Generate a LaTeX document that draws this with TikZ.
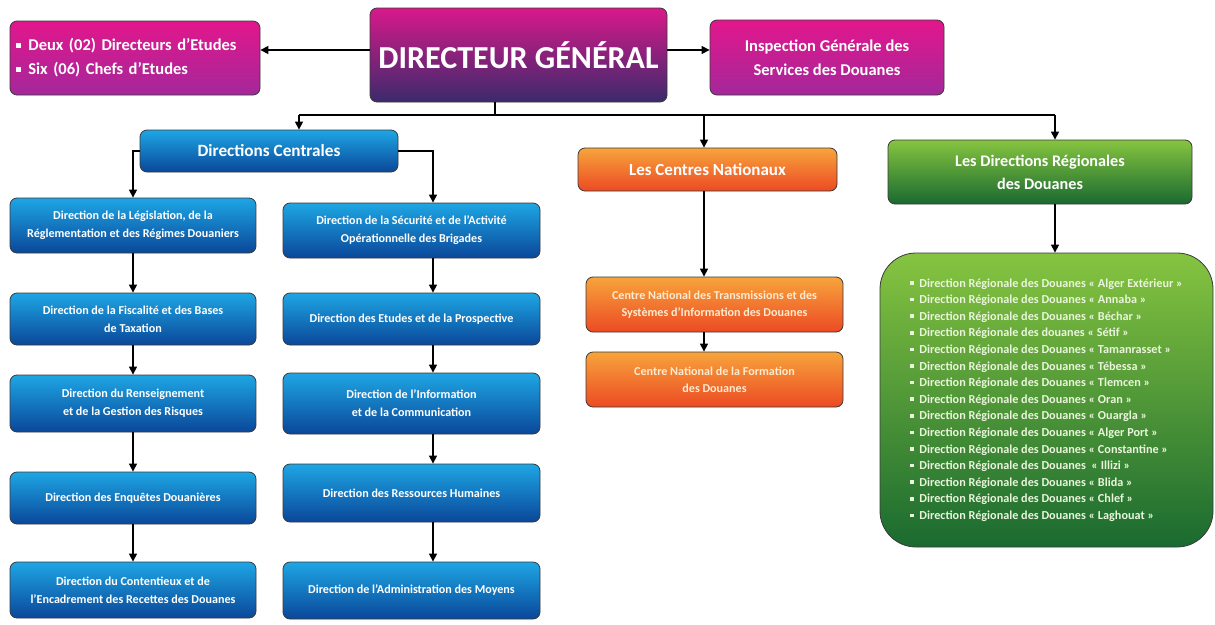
\documentclass[tikz,border=0pt]{standalone}
\usepackage{fontspec}
\setmainfont{Carlito}
\usetikzlibrary{arrows.meta,calc}
\definecolor{magT}{HTML}{E3168C}
\definecolor{magB}{HTML}{A3289A}
\definecolor{dgT}{HTML}{D8198A}
\definecolor{dgB}{HTML}{3B2A6C}
\definecolor{bluT}{HTML}{1EA6E4}
\definecolor{bluB}{HTML}{0A4799}
\definecolor{orT}{HTML}{F7A43C}
\definecolor{orB}{HTML}{EC4A23}
\definecolor{grT}{HTML}{86C440}
\definecolor{grB}{HTML}{1A6A30}
\definecolor{edge}{HTML}{3A3A3A}
\definecolor{cream}{HTML}{FDEBD0}
\definecolor{pale}{HTML}{EAF5DC}
\newcommand{\sqb}{\rule[0.18em]{0.3em}{0.3em}\hspace{0.45em}}
\tikzset{
 box/.style={draw=edge, line width=0.8pt, rounded corners=7pt, align=center, text=white, inner sep=2pt},
 magbox/.style={box, top color=magT, bottom color=magB, font=\bfseries\fontsize{16.5}{24}\selectfont},
 dgbox/.style={box, top color=dgT, bottom color=dgB, font=\bfseries\fontsize{32}{36}\selectfont},
 bluebox/.style={box, top color=bluT, bottom color=bluB, font=\bfseries\fontsize{12.1}{18}\selectfont, minimum width=246pt},
 bluehead/.style={box, top color=bluT, bottom color=bluB, font=\bfseries\fontsize{17.2}{20}\selectfont},
 orhead/.style={box, top color=orT, bottom color=orB, font=\bfseries\fontsize{17}{20}\selectfont},
 orbox/.style={box, top color=orT, bottom color=orB, text=cream, font=\bfseries\fontsize{12.1}{17}\selectfont},
 grhead/.style={box, top color=grT, bottom color=grB, font=\bfseries\fontsize{16.2}{23}\selectfont},
 grlist/.style={box, top color=grT, bottom color=grB, rounded corners=36pt, align=left, text=pale, font=\bfseries\fontsize{12.2}{16.6}\selectfont},
 conn/.style={draw=black, line width=1.2pt},
 arr/.style={conn, -{Triangle[length=8pt,width=8pt]}},
}
\begin{document}
\begin{tikzpicture}[x=1pt,y=-1pt]
\useasboundingbox (0,0) rectangle (1215,624);
% top row
\node[dgbox, minimum width=297pt, minimum height=94pt] (dg) at (518.5,55) {DIRECTEUR GÉNÉRAL};
\node[magbox, align=left, minimum width=250pt, minimum height=74pt, text width=238pt] (lbox) at (135,58)
  {\sqb Deux (02) Directeurs d’Etudes\\\sqb Six (06) Chefs d’Etudes};
\node[magbox, minimum width=234pt, minimum height=75pt] (insp) at (827,57.5)
  {Inspection Générale des\\Services des Douanes};
% second row
\node[bluehead, minimum width=258pt, minimum height=42pt] (dc) at (269,151) {Directions Centrales};
\node[orhead, minimum width=259pt, minimum height=43pt] (cn) at (707.5,169.5) {Les Centres Nationaux};
\node[grhead, minimum width=304pt, minimum height=64pt] (dr) at (1040,172) {Les Directions Régionales\\des Douanes};
% left column
\node[bluebox, minimum height=55pt] (l1) at (133,225.5) {Direction de la Législation, de la\\Réglementation et des Régimes Douaniers};
\node[bluebox, minimum height=52pt] (l2) at (133,319) {Direction de la Fiscalité et des Bases\\de Taxation};
\node[bluebox, minimum height=57pt] (l3) at (133,403.5) {Direction du Renseignement\\et de la Gestion des Risques};
\node[bluebox, minimum height=52pt] (l4) at (133,498) {Direction des Enquêtes Douanières};
\node[bluebox, minimum height=56pt] (l5) at (133,590) {Direction du Contentieux et de\\l’Encadrement des Recettes des Douanes};
% right column
\node[bluebox, minimum width=257pt, minimum height=55pt] (r1) at (411.5,230.5) {Direction de la Sécurité et de l’Activité\\Opérationnelle des Brigades};
\node[bluebox, minimum width=257pt, minimum height=52pt] (r2) at (411.5,319) {Direction des Etudes et de la Prospective};
\node[bluebox, minimum width=257pt, minimum height=61pt] (r3) at (411.5,403.5) {Direction de l’Information\\et de la Communication};
\node[bluebox, minimum width=257pt, minimum height=58pt] (r4) at (411.5,493) {Direction des Ressources Humaines};
\node[bluebox, minimum width=257pt, minimum height=57pt] (r5) at (411.5,590.5) {Direction de l’Administration des Moyens};
% centres
\node[orbox, minimum width=257pt, minimum height=55pt] (cnt) at (714.5,304.5) {Centre National des Transmissions et des\\Systèmes d’Information des Douanes};
\node[orbox, minimum width=257pt, minimum height=55pt] (cnf) at (714.5,379.5) {Centre National de la Formation\\des Douanes};
% regional list
\node[grlist, minimum width=333pt, minimum height=294pt] (list) at (1046.5,400) {%
\sqb Direction Régionale des Douanes « Alger Extérieur »\\
\sqb Direction Régionale des Douanes « Annaba »\\
\sqb Direction Régionale des Douanes « Béchar »\\
\sqb Direction Régionale des douanes « Sétif »\\
\sqb Direction Régionale des Douanes « Tamanrasset »\\
\sqb Direction Régionale des Douanes « Tébessa »\\
\sqb Direction Régionale des Douanes « Tlemcen »\\
\sqb Direction Régionale des Douanes « Oran »\\
\sqb Direction Régionale des Douanes « Ouargla »\\
\sqb Direction Régionale des Douanes « Alger Port »\\
\sqb Direction Régionale des Douanes « Constantine »\\
\sqb Direction Régionale des Douanes \ « Illizi »\\
\sqb Direction Régionale des Douanes « Blida »\\
\sqb Direction Régionale des Douanes « Chlef »\\
\sqb Direction Régionale des Douanes « Laghouat »};
% connectors
\coordinate (ay) at (0,50);
\coordinate (t0) at (495,115);
\coordinate (ta) at (299,115);
\coordinate (tb) at (704,115);
\coordinate (tc) at (1055,115);
\coordinate (rx) at (433,0);
\draw[arr] (dg.west |- ay) -- (lbox.east |- ay);
\draw[arr] (dg.east |- ay) -- (insp.west |- ay);
\draw[conn] (dg.south -| t0) -- (t0);
\draw[conn] (ta) -- (tc);
\draw[arr] (ta) -- (ta |- dc.north);
\draw[arr] (tb) -- (tb |- cn.north);
\draw[arr] (tc) -- (tc |- dr.north);
\draw[arr] (dc.west) -| (l1.north);
\draw[arr] (dc.east) -| (r1.north -| rx);
\draw[arr] (l1.south) -- (l2.north);
\draw[arr] (l2.south) -- (l3.north);
\draw[arr] (l3.south) -- (l4.north);
\draw[arr] (l4.south) -- (l5.north);
\draw[arr] (r1.south -| rx) -- (r2.north -| rx);
\draw[arr] (r2.south -| rx) -- (r3.north -| rx);
\draw[arr] (r3.south -| rx) -- (r4.north -| rx);
\draw[arr] (r4.south -| rx) -- (r5.north -| rx);
\draw[arr] (cn.south -| tb) -- (cnt.north -| tb);
\draw[arr] (cnt.south -| tb) -- (cnf.north -| tb);
\draw[arr] (dr.south -| tc) -- (list.north -| tc);
\end{tikzpicture}
\end{document}
